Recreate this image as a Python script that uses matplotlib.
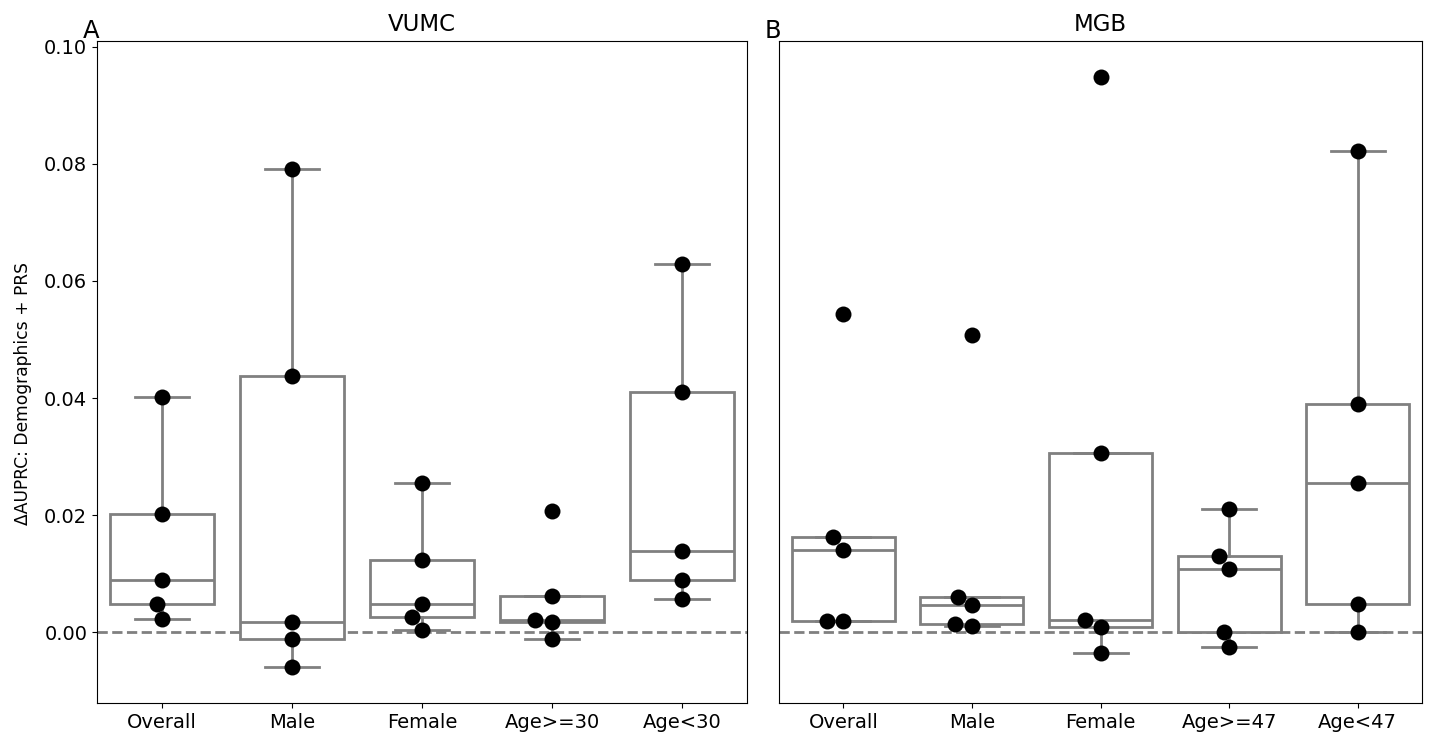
"""
Delta AUPRC (Demographics + PRS) per subgroup, VUMC vs MGB.

Box (no fliers) + swarm of the per-run values, one panel per site.
Writes out.png.
"""
import matplotlib
matplotlib.use("Agg")
import matplotlib.pyplot as plt
import pandas as pd
import seaborn as sns

VUMC_GROUPS = ["Overall", "Male", "Female", "Age>=30", "Age<30"]
VUMC_OVERALL = [0.0402, 0.0202, 0.0089, 0.0048, 0.0022]
VUMC_MALE = [0.0791, 0.0438, 0.0017, -0.0011, -0.0060]
VUMC_FEMALE = [0.0255, 0.0124, 0.0048, 0.0026, 0.0004]
VUMC_AGE_HI = [0.0207, 0.0061, 0.0021, 0.0018, -0.0012]
VUMC_AGE_LO = [0.0629, 0.0411, 0.0139, 0.0090, 0.0056]

MGB_GROUPS = ["Overall", "Male", "Female", "Age>=47", "Age<47"]
MGB_OVERALL = [0.0544, 0.0162, 0.0140, 0.0019, 0.0019]
MGB_MALE = [0.0508, 0.0060, 0.0046, 0.0014, 0.0011]
MGB_FEMALE = [0.0948, 0.0306, 0.0020, 0.0009, -0.0036]
MGB_AGE_HI = [0.0211, 0.0130, 0.0108, 0.0000, -0.0026]
MGB_AGE_LO = [0.0822, 0.0390, 0.0255, 0.0048, 0.0000]

BOX_COLOR = "#808080"


def long_frame(groups, series):
    rows = []
    for g, vals in zip(groups, series):
        for v in vals:
            rows.append({"group": g, "value": v})
    return pd.DataFrame(rows)


def panel(ax, groups, series, title, letter):
    df = long_frame(groups, series)
    line = dict(color=BOX_COLOR, linewidth=2)
    ax.boxplot(series, positions=range(len(groups)), widths=0.8, showfliers=False,
               patch_artist=True, capwidths=0.42,
               boxprops=dict(facecolor="white", edgecolor=BOX_COLOR, linewidth=2),
               medianprops=line, whiskerprops=line, capprops=line, zorder=2)
    ax.axhline(0, color=BOX_COLOR, ls="--", lw=2, zorder=1)
    sns.swarmplot(data=df, x="group", y="value", order=groups, color="black",
                  size=11.5, ax=ax, zorder=3)
    ax.set_xlim(-0.5, len(groups) - 0.5)
    ax.set_xticks(range(len(groups)))
    ax.set_xticklabels(groups)
    ax.set_xlabel("")
    ax.set_ylabel("")
    ax.set_title(title, fontsize=16.5, pad=7)
    ax.text(-0.022, 1.005, letter, transform=ax.transAxes, fontsize=17.5,
            ha="left", va="baseline")
    ax.tick_params(labelsize=14)


def main():
    fig = plt.figure(figsize=(14.31, 7.36), dpi=100)
    ax1 = fig.add_axes([0.0678, 0.0448, 0.4542, 0.8995])
    ax2 = fig.add_axes([0.5444, 0.0448, 0.4493, 0.8995])

    panel(ax1, VUMC_GROUPS,
          [VUMC_OVERALL, VUMC_MALE, VUMC_FEMALE, VUMC_AGE_HI, VUMC_AGE_LO], "VUMC", "A")
    panel(ax2, MGB_GROUPS,
          [MGB_OVERALL, MGB_MALE, MGB_FEMALE, MGB_AGE_HI, MGB_AGE_LO], "MGB", "B")

    for ax in (ax1, ax2):
        ax.set_ylim(-0.0121, 0.1010)
    ax1.set_yticks([0.0, 0.02, 0.04, 0.06, 0.08, 0.10])
    ax1.set_yticklabels(["0.00", "0.02", "0.04", "0.06", "0.08", "0.10"])
    ax1.set_ylabel("ΔAUPRC: Demographics + PRS", fontsize=12.3)
    ax1.yaxis.set_label_coords(-0.0996, 0.467)
    ax2.set_yticks([])

    fig.savefig("out.png", dpi=100)
    plt.close(fig)


if __name__ == "__main__":
    main()
